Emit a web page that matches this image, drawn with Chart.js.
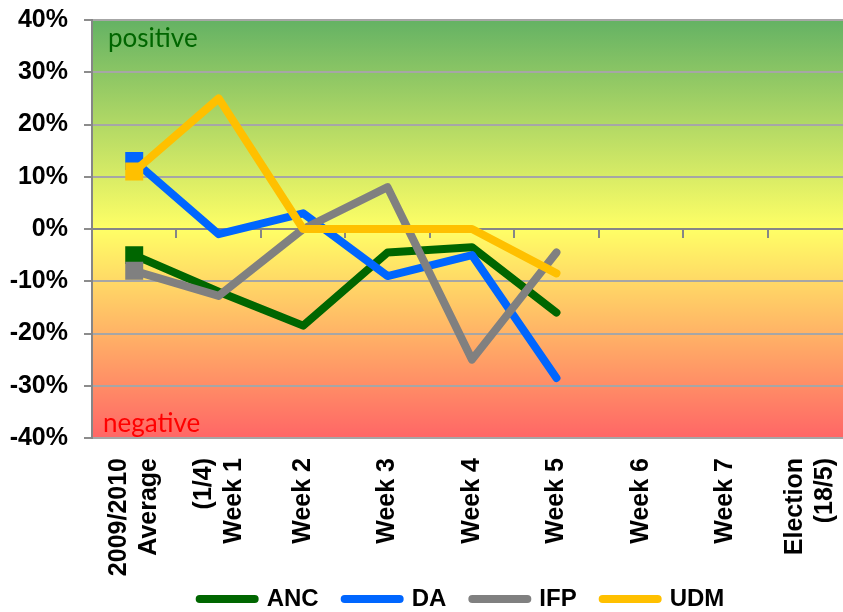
<!DOCTYPE html>
<html>
<head>
<meta charset="utf-8">
<script src="https://cdn.jsdelivr.net/npm/chart.js@4/dist/chart.umd.min.js"></script>
<style>
html,body{margin:0;padding:0;background:#ffffff;overflow:hidden;width:843px;height:612px;}
#wrap{width:924px;height:612px;position:relative;}
#c{position:absolute;left:0;top:0;width:924px;height:612px;}
</style>
</head>
<body>
<div id="wrap"><canvas id="c" width="924" height="612"></canvas></div>
<script>
// ---- data ----
const categories = [
  ["2009/2010", "Average"],
  ["(1/4)", "Week 1"],
  ["Week 2"],
  ["Week 3"],
  ["Week 4"],
  ["Week 5"],
  ["Week 6"],
  ["Week 7"],
  ["Election", "(18/5)"]
];
const seriesNames = ["ANC", "DA", "IFP", "UDM"];
const ancValues = [-5, -12, -18.5, -4.5, -3.5, -16, null, null, null];
const daValues  = [13, -1, 3, -9, -5, -28.5, null, null, null];
const ifpValues = [-8, -12.8, 0, 8, -25, -4.5, null, null, null];
const udmValues = [11, 25, 0, 0, 0, -8.5, null, null, null];
const yTickValues = [-40, -30, -20, -10, 0, 10, 20, 30, 40];
const zoneLabels = ["positive", "negative"];

const seriesColors = ["#006600", "#0066ff", "#808080", "#ffc000"];
const allValues = [ancValues, daValues, ifpValues, udmValues];

const FONT = '"Liberation Sans", Arial, sans-serif';

function makeDataset(i) {
  const vals = allValues[i];
  return {
    label: seriesNames[i],
    data: vals,
    yAxisID: 'y',
    borderColor: seriesColors[i],
    backgroundColor: seriesColors[i],
    borderWidth: 8,
    borderCapStyle: 'round',
    borderJoinStyle: 'round',
    tension: 0,
    spanGaps: false,
    pointStyle: 'rect',
    pointRadius: vals.map((v, k) => k === 0 ? 12.7 : 0),
    pointHoverRadius: vals.map((v, k) => k === 0 ? 12.7 : 0),
    pointBorderWidth: 0,
    pointBackgroundColor: seriesColors[i],
    order: 3 - i
  };
}

function zeroPad(s) {
  s.paddingTop = 0; s.paddingBottom = 0; s.paddingLeft = 0; s.paddingRight = 0;
}

const bgPlugin = {
  id: 'bgPlugin',
  beforeDraw(chart) {
    const {ctx, chartArea: a} = chart;
    const g = ctx.createLinearGradient(0, a.top, 0, a.bottom);
    g.addColorStop(0, '#64b264');
    g.addColorStop(0.5, '#ffff66');
    g.addColorStop(1, '#ff6666');
    ctx.save();
    ctx.fillStyle = g;
    ctx.fillRect(a.left, a.top, a.right - a.left, a.bottom - a.top);
    ctx.restore();
  },
  beforeDatasetsDraw(chart) {
    const {ctx} = chart;
    const xs = chart.scales.x, ys = chart.scales.y;
    const y0 = ys.getPixelForValue(0);
    ctx.save();
    ctx.strokeStyle = '#868686';
    ctx.lineWidth = 2;
    ctx.beginPath();
    ctx.moveTo(chart.chartArea.left, y0);
    ctx.lineTo(chart.chartArea.right, y0);
    ctx.stroke();
    const n = categories.length;
    const half = (xs.getPixelForValue(1) - xs.getPixelForValue(0)) / 2;
    ctx.beginPath();
    for (let i = 0; i <= n; i++) {
      const px = Math.round(xs.getPixelForValue(0) - half + i * 2 * half);
      ctx.moveTo(px, y0);
      ctx.lineTo(px, y0 + 9);
    }
    ctx.stroke();
    ctx.restore();
  },
  afterDraw(chart) {
    const {ctx, chartArea: a} = chart;
    const xs = chart.scales.x;
    ctx.save();
    // zone labels
    ctx.font = '26px Lato, "Open Sans", sans-serif';
    ctx.textAlign = 'left';
    ctx.textBaseline = 'alphabetic';
    ctx.fillStyle = '#006600';
    ctx.fillText(zoneLabels[0], a.left + 16, a.top + 27);
    ctx.fillStyle = '#ff0000';
    ctx.fillText(zoneLabels[1], a.left + 11, a.bottom - 6);
    // category labels (rotated)
    ctx.font = 'bold 25px ' + FONT;
    ctx.fillStyle = '#000000';
    ctx.textAlign = 'right';
    ctx.textBaseline = 'middle';
    categories.forEach((lines, i) => {
      const cx = xs.getPixelForValue(i);
      const n = lines.length;
      lines.forEach((t, j) => {
        const lx = cx + (j - (n - 1) / 2) * 30;
        ctx.save();
        ctx.translate(lx, a.bottom + 20);
        ctx.rotate(-Math.PI / 2);
        ctx.fillText(t, 0, 0);
        ctx.restore();
      });
    });
    ctx.restore();
  }
};

new Chart(document.getElementById('c'), {
  type: 'line',
  data: {
    labels: categories.map(l => l.join(' ')),
    datasets: [0, 1, 2, 3].map(makeDataset)
  },
  options: {
    responsive: false,
    animation: false,
    layout: { autoPadding: false, padding: { left: 0, right: 0, top: 20, bottom: -9 } },
    plugins: {
      tooltip: { enabled: false },
      legend: {
        position: 'bottom',
        fullSize: true,
        labels: {
          usePointStyle: true,
          pointStyle: 'line',
          pointStyleWidth: 55,
          padding: 26,
          color: '#000000',
          font: { family: FONT, size: 24, weight: 'bold' },
          sort: (a, b) => a.datasetIndex - b.datasetIndex,
          generateLabels: chart => {
            const items = Chart.defaults.plugins.legend.labels.generateLabels(chart);
            items.forEach(it => {
              const c = seriesColors[it.datasetIndex];
              it.strokeStyle = c;
              it.fillStyle = c;
              it.lineWidth = 8;
              it.lineCap = 'round';
              it.pointStyle = 'line';
            });
            return items;
          }
        }
      }
    },
    scales: {
      x: {
        type: 'category',
        offset: true,
        grid: { display: false },
        border: { display: false },
        ticks: { display: false },
        afterFit: s => { s.height = 123; zeroPad(s); }
      },
      y: {
        position: 'left',
        min: -40,
        max: 40,
        afterBuildTicks: s => { s.ticks = yTickValues.map(v => ({ value: v })); },
        afterFit: s => { s.width = 92; zeroPad(s); },
        grid: { color: '#a6a6a6', lineWidth: 2, tickLength: 8, tickColor: '#8c8c8c' },
        border: { color: '#868686', width: 2 },
        ticks: {
          padding: 16,
          color: '#000000',
          font: { family: FONT, size: 25, weight: 'bold' },
          callback: v => v + '%'
        }
      },
      yRight: {
        position: 'right',
        min: -40,
        max: 40,
        grid: { display: false, drawOnChartArea: false },
        border: { display: false },
        ticks: { display: false },
        afterFit: s => { s.width = 72; zeroPad(s); }
      }
    }
  },
  plugins: [bgPlugin]
});
</script>
</body>
</html>
